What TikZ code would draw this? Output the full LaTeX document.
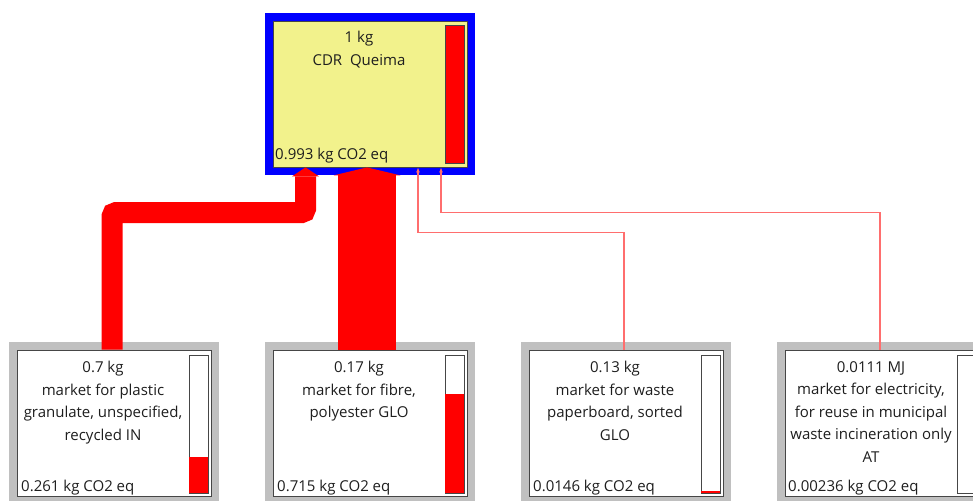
\documentclass[tikz,border=0pt]{standalone}
\usepackage{fontspec}
\setmainfont{Open Sans}
\usetikzlibrary{arrows.meta}
\definecolor{cdryellow}{RGB}{242,242,140}
\definecolor{framegray}{RGB}{192,192,192}
\definecolor{edgegray}{RGB}{70,70,70}
\definecolor{txtgray}{RGB}{30,30,30}
\definecolor{linkred}{RGB}{255,110,110}
\begin{document}
\begin{tikzpicture}[x=1pt, y=-1pt,
  procbox/.style={draw=edgegray, line width=0.8pt, minimum width=194pt, minimum height=146pt, inner sep=0pt},
  proctext/.style={font=\fontsize{15}{22.5}\selectfont, text=txtgray, align=center, inner sep=0pt, anchor=north},
  impact/.style={font=\fontsize{15}{18}\selectfont, text=txtgray, inner sep=0pt, anchor=base west},
  bar/.style={draw=edgegray, line width=0.8pt},
  flow/.style={red, line cap=butt},
  link/.style={linkred, line width=1.2pt, -{Latex[length=5pt,width=4pt]}}]
\useasboundingbox (0,0) rectangle (973,500);
% Processo principal
\fill[blue] (265,13) rectangle (475,175);
\node[procbox, fill=cdryellow] (cdr) at (370,94) {};
\filldraw[bar, fill=red] (445,25) rectangle (464,163);
\node[proctext] (cdrname) at (359,31) {1 kg\\CDR\ \ Queima};
\node[impact] (cdrimpact) at (275,159) {0.993 kg CO2 eq};
% Granulado plastico
\fill[framegray] (9,342) rectangle (219,505);
\node[procbox, fill=white] (plastic) at (114,423) {};
\filldraw[bar, fill=white] (189,355) rectangle (208,493);
\fill[red] (189.4,457) rectangle (207.6,492.6);
\node[proctext] (plastictext) at (103,361) {0.7 kg\\market for plastic\\granulate, unspecified,\\recycled IN};
\node[impact] (plasticimpact) at (21,491) {0.261 kg CO2 eq};
% Fibra de poliester
\fill[framegray] (265,342) rectangle (475,505);
\node[procbox, fill=white] (fibre) at (370,423) {};
\filldraw[bar, fill=white] (445,355) rectangle (464,493);
\fill[red] (445.4,394) rectangle (463.6,492.6);
\node[proctext] (fibretext) at (359,361) {0.17 kg\\market for fibre,\\polyester GLO};
\node[impact] (fibreimpact) at (277,491) {0.715 kg CO2 eq};
% Papelao
\fill[framegray] (521,342) rectangle (731,505);
\node[procbox, fill=white] (paper) at (626,423) {};
\filldraw[bar, fill=white] (701,355) rectangle (720,493);
\fill[red] (701.4,491) rectangle (719.6,492.6);
\node[proctext] (papertext) at (615,361) {0.13 kg\\market for waste\\paperboard, sorted\\GLO};
\node[impact] (paperimpact) at (533,491) {0.0146 kg CO2 eq};
% Eletricidade
\fill[framegray] (777,342) rectangle (987,505);
\node[procbox, fill=white] (elec) at (882,423) {};
\filldraw[bar, fill=white] (957,355) rectangle (976,493);
\node[proctext] (electext) at (871,361) {0.0111 MJ\\market for electricity,\\for reuse in municipal\\waste incineration only\\AT};
\node[impact] (elecimpact) at (788,491) {0.00236 kg CO2 eq};
% Fluxos
\draw[flow, line width=21pt, rounded corners=4pt, -{Triangle[length=9pt,width=27pt,line width=0pt]}] ([xshift=-2pt]plastic.north) -- ++(0,-137) -| ([xshift=-64.5pt]cdr.south);
\draw[flow, line width=58pt, -{Triangle[length=8pt,width=67pt,line width=0pt]}] ([xshift=-3pt]fibre.north) -- ([xshift=-3pt]cdr.south);
\draw[link] ([xshift=-2pt]paper.north) -- ++(0,-117) -| ([xshift=48pt]cdr.south);
\draw[link] ([xshift=-2pt]elec.north) -- ++(0,-137) -| ([xshift=71pt]cdr.south);
\end{tikzpicture}
\end{document}
